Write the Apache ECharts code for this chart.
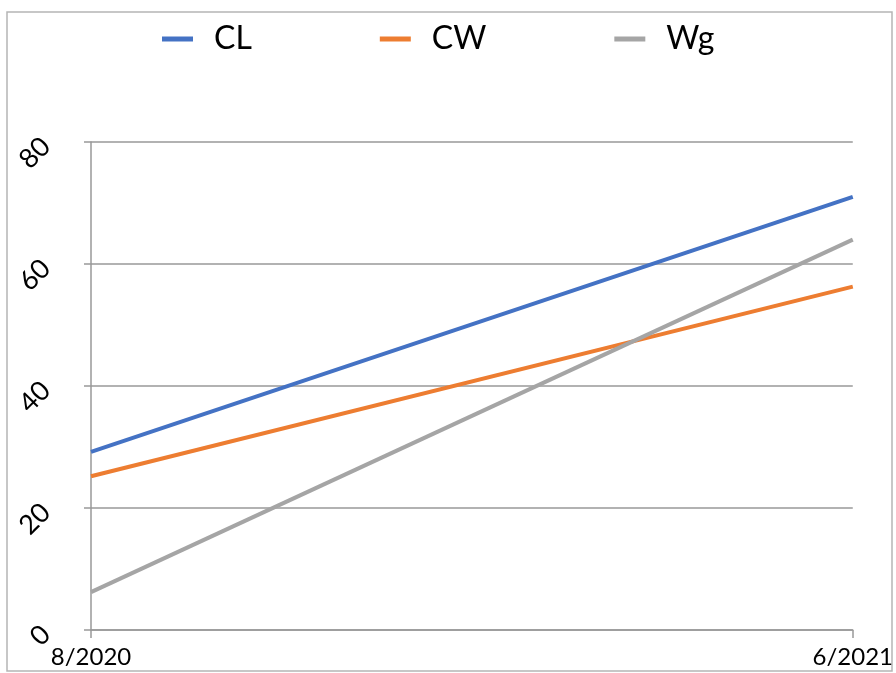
<!DOCTYPE html>
<html><head><meta charset="utf-8">
<script src="https://cdn.jsdelivr.net/npm/echarts@6/dist/echarts.min.js"></script>
<style>html,body{margin:0;padding:0;background:#fff}#c{width:896px;height:673px}</style>
</head><body><div id="c"></div>
<script>
var categories = ['8/2020', '6/2021'];
var seriesNames = ['CL', 'CW', 'Wg'];
var CL = [29.2, 71.0];
var CW = [25.2, 56.3];
var Wg = [6.2, 64.0];
var yTicks = [0, 20, 40, 60, 80];
var colors = ['#4472C4', '#ED7D31', '#A5A5A5'];

var chart = echarts.init(document.getElementById('c'));
var data = [CL, CW, Wg];
chart.setOption({
  animation: false,
  color: colors,
  graphic: [{type: 'rect', shape: {x: 7, y: 12, width: 885, height: 659}, style: {fill: 'none', stroke: '#b5b5b5', lineWidth: 1.5}, silent: true}],
  legend: {
    top: 18, left: 157, itemWidth: 31, itemHeight: 5, itemGap: 128,
    icon: 'rect',
    data: seriesNames,
    textStyle: {fontSize: 32, color: '#000', fontFamily: 'Lato', padding: [0, 0, 0, 16]}
  },
  grid: {left: 91, right: 42, top: 142, bottom: 43},
  xAxis: {
    type: 'category', data: categories, boundaryGap: false,
    axisLine: {lineStyle: {color: '#999', width: 1.5}},
    axisTick: {show: true, length: 8, lineStyle: {color: '#999', width: 1.5}},
    axisLabel: {fontSize: 24, color: '#000', fontFamily: 'Lato', margin: 15, interval: 0}
  },
  yAxis: {
    type: 'value', min: yTicks[0], max: yTicks[yTicks.length - 1], interval: 20,
    axisLine: {show: true, lineStyle: {color: '#999', width: 1.5}},
    axisTick: {show: true, length: 7, lineStyle: {color: '#999', width: 1.5}},
    splitLine: {lineStyle: {color: '#999', width: 1.5}},
    axisLabel: {fontSize: 27, color: '#000', fontFamily: 'Lato', rotate: 45, margin: 45}
  },
  series: seriesNames.map(function (n, i) {
    return {name: n, type: 'line', data: data[i], symbol: 'none', lineStyle: {width: 4}};
  })
});
</script></body></html>
